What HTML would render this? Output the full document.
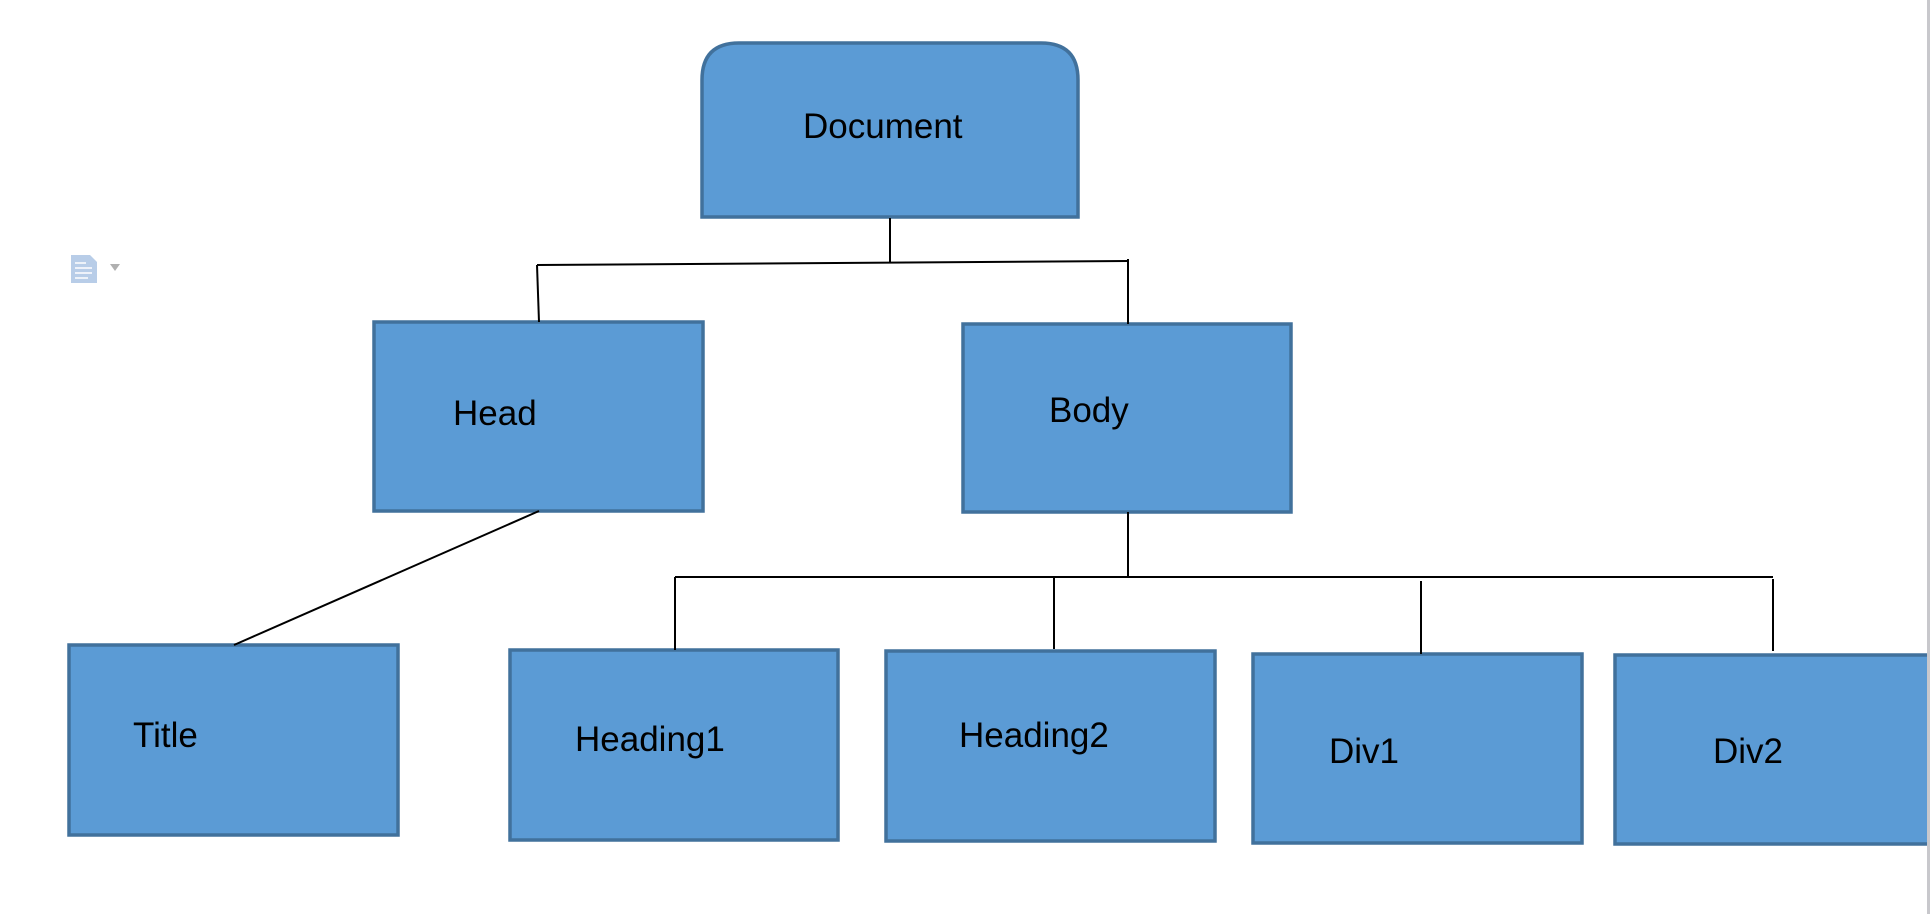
<!DOCTYPE html>
<html><head><meta charset="utf-8"><style>
html,body{margin:0;padding:0;background:#fff;width:1930px;height:914px;overflow:hidden}
svg{display:block}
text{font-family:"Liberation Sans",Arial,sans-serif;font-size:35px;fill:#000}
</style></head><body>
<svg width="1930" height="914" viewBox="0 0 1930 914" xmlns="http://www.w3.org/2000/svg">
<g fill="#5b9bd5" stroke="#41719c" stroke-width="3.5">
<path d="M702,217 L702,80 Q702,43 739,43 L1041,43 Q1078,43 1078,80 L1078,217 Z"/>
<rect x="374" y="322" width="329" height="189"/>
<rect x="963" y="324" width="328" height="188"/>
<rect x="69" y="645" width="329" height="190"/>
<rect x="510" y="650" width="328" height="190"/>
<rect x="886" y="651" width="329" height="190"/>
<rect x="1253" y="654" width="329" height="189"/>
<rect x="1615" y="655" width="330" height="189"/>
</g>
<g stroke="#000" stroke-width="2" fill="none">
<line x1="890" y1="218" x2="890" y2="263"/>
<line x1="537" y1="265" x2="1128" y2="261"/>
<line x1="537" y1="265" x2="539" y2="322"/>
<line x1="1128" y1="259" x2="1128" y2="324"/>
<line x1="539" y1="511" x2="234" y2="645"/>
<line x1="1128" y1="512" x2="1128" y2="577"/>
<line x1="675" y1="577" x2="1773" y2="577"/>
<line x1="675" y1="577" x2="675" y2="650"/>
<line x1="1054" y1="577" x2="1054" y2="649"/>
<line x1="1421" y1="581" x2="1421" y2="654"/>
<line x1="1773" y1="579" x2="1773" y2="651"/>
</g>
<rect x="1927" y="0" width="3" height="914" fill="#c8c8cc"/>
<g fill="#b8cde8">
<path d="M71,255 L90,255 L97,262 L97,283 L71,283 Z"/>
</g>
<g stroke="#fff" stroke-width="1.5">
<line x1="75" y1="263" x2="86" y2="263"/><line x1="75" y1="268" x2="92" y2="268"/>
<line x1="75" y1="273" x2="92" y2="273"/><line x1="75" y1="278" x2="88" y2="278"/>
</g>
<path d="M110,264 L120,264 L115,271 Z" fill="#b0b0b0"/>
<text x="803" y="138">Document</text>
<text x="453" y="425">Head</text>
<text x="1049" y="422">Body</text>
<text x="133" y="747">Title</text>
<text x="575" y="751">Heading1</text>
<text x="959" y="747">Heading2</text>
<text x="1329" y="763">Div1</text>
<text x="1713" y="763">Div2</text>
</svg>
</body></html>
